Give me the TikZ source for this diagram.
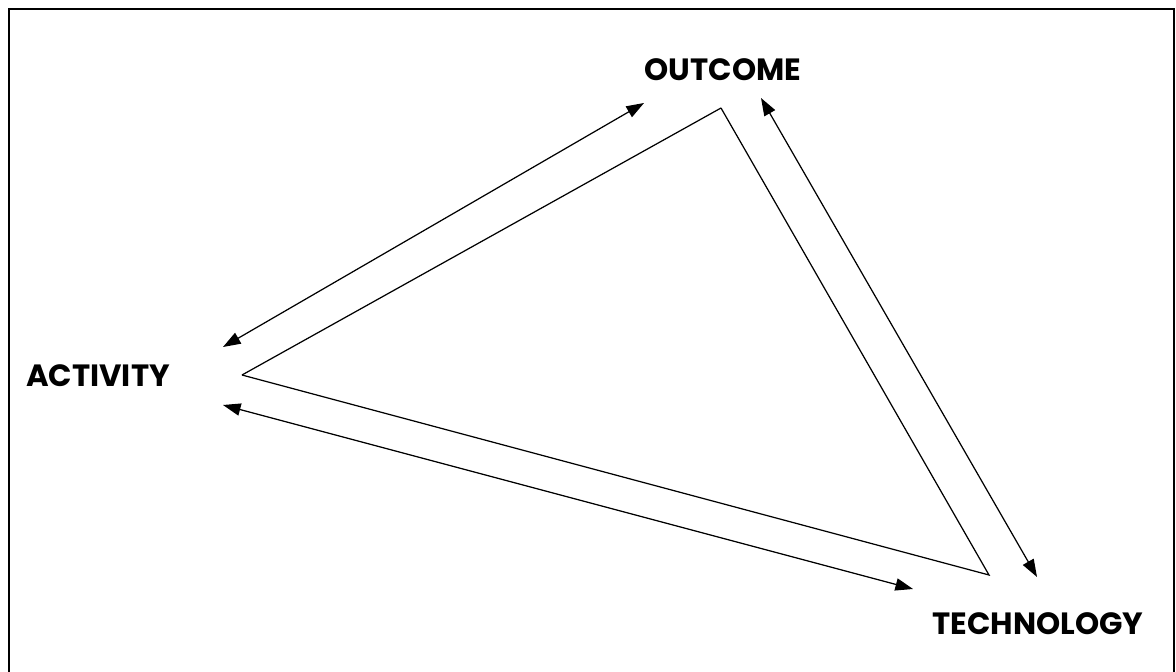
\documentclass[tikz,border=0pt]{standalone}
\usepackage{fontspec}
\setmainfont{Poppins}
\usetikzlibrary{arrows.meta}

\begin{document}
\begin{tikzpicture}[x=0.02cm, y=-0.02cm,
  label/.style={font=\bfseries\fontsize{17.5}{20}\selectfont, inner sep=0pt},
  tri/.style={line width=0.7pt},
  link/.style={line width=0.7pt, {Triangle[length=10pt,width=7pt]}-{Triangle[length=10pt,width=7pt]}}]
\useasboundingbox (0,0) rectangle (1176,672);
% Frame (no bottom edge)
\draw[line width=1.2pt] (9,672) -- (9,9) -- (1174,9) -- (1174,672);
% Labels
\node[label] (outcome) at (723,70) {OUTCOME};
\node[label] (activity) at (98,376) {ACTIVITY};
\node[label] (technology) at (1038,624) {TECHNOLOGY};
% Triangle corners
\coordinate (tO) at (721,108);
\coordinate (tA) at (242,375);
\coordinate (tT) at (989,575);
\draw[tri] (tA) -- (tO);
\draw[tri] (tO) -- (tT) -- (tA);
% Arrow ends
\coordinate (aO1) at (644,103);
\coordinate (aA1) at (223,347);
\coordinate (aO2) at (761,98);
\coordinate (aT2) at (1037,577);
\coordinate (aA3) at (223,405);
\coordinate (aT3) at (913,589);
\draw[link] (aA1) -- (aO1);
\draw[link] (aO2) -- (aT2);
\draw[link] (aA3) -- (aT3);
\end{tikzpicture}
\end{document}
